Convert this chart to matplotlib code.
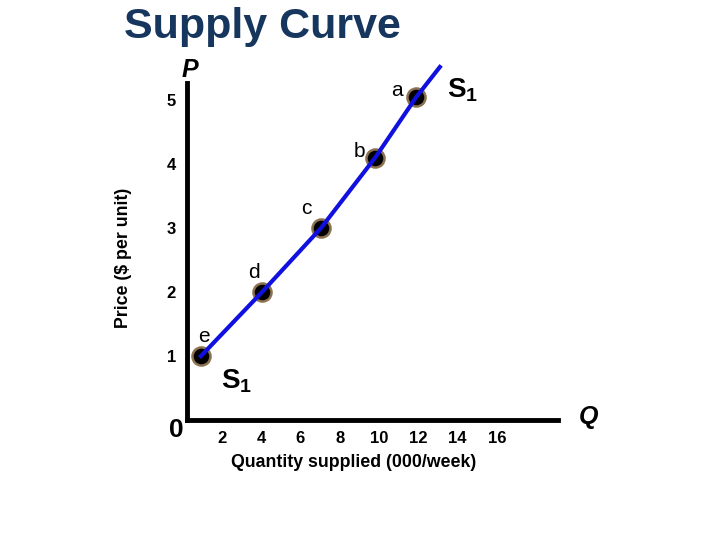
import matplotlib.pyplot as plt

plt.rcParams['font.family'] = ['Liberation Sans', 'DejaVu Sans']
plt.rcParams['mathtext.fontset'] = 'custom'
plt.rcParams['mathtext.rm'] = 'Liberation Sans'
plt.rcParams['mathtext.bf'] = 'Liberation Sans:bold'

# points on the supply curve (quantity in 000/week, price in $)
point_names = ['e', 'd', 'c', 'b', 'a']
quantity = [0.93, 4.04, 7.04, 9.8, 11.9]
price = [1.0, 2.0, 3.0, 4.1, 5.05]

# curve drawn through the points, running on past a
curve_q = [0.93, 4.04, 7.04, 9.8, 11.9, 13.1]
curve_p = [1.0, 2.0, 3.0, 4.1, 5.05, 5.52]

x_ticks = [2, 4, 6, 8, 10, 12, 14, 16]
y_ticks = [1, 2, 3, 4, 5]

fig = plt.figure(figsize=(7.2, 5.4), dpi=100)
ax = fig.add_axes([187 / 720, 120 / 540, 371 / 720, 337 / 540])
ax.set_xlim(0.22, 19.12)
ax.set_ylim(0, 5.27)

for side in ['top', 'right']:
    ax.spines[side].set_visible(False)
for side in ['left', 'bottom']:
    ax.spines[side].set_linewidth(3.5)

ax.set_xticks(x_ticks)
ax.set_xticklabels([str(t) for t in x_ticks], fontsize=12, fontweight='bold')
ax.set_yticks(y_ticks)
ax.set_yticklabels([str(t) for t in y_ticks], fontsize=12, fontweight='bold')
ax.tick_params(length=0, pad=8)

ax.plot(quantity, price, 'o', ms=13, mfc='black', mec='#8c7250', mew=1.8, zorder=3, clip_on=False)
ax.plot(curve_q, curve_p, color='#1010e0', lw=3, zorder=4, clip_on=False)

label_pos = {'a': (10.92, 5.16), 'b': (9.03, 4.2), 'c': (6.28, 3.3), 'd': (3.63, 2.3), 'e': (1.09, 1.31)}
for name in point_names:
    qx, py = label_pos[name]
    ax.text(qx, py, name, fontsize=15, ha='center', va='center', clip_on=False)

ax.text(14.28, 5.16, r'$\mathbf{S_1}$', fontsize=20, ha='center', va='center', clip_on=False)
ax.text(2.77, 0.6, r'$\mathbf{S_1}$', fontsize=20, ha='center', va='center', clip_on=False)

fig.text(0.2639, 0.87, 'P', fontsize=18, fontweight='bold', style='italic', ha='center', va='center')
fig.text(0.817, 0.227, 'Q', fontsize=18, fontweight='bold', style='italic', ha='center', va='center')
fig.text(0.2445, 0.204, '0', fontsize=19, fontweight='bold', ha='center', va='center')

ax.set_ylabel('Price ($ per unit)', fontsize=12.8, fontweight='bold')
ax.yaxis.set_label_coords(-0.148, 0.48)
ax.set_xlabel('Quantity supplied (000/week)', fontsize=12.8, fontweight='bold')
ax.xaxis.set_label_coords(0.45, -0.1)

fig.text(0.364, 0.95, 'Supply Curve', fontsize=31, fontweight='bold', color='#17365d', ha='center', va='center')

fig.savefig('out.png', dpi=100)
